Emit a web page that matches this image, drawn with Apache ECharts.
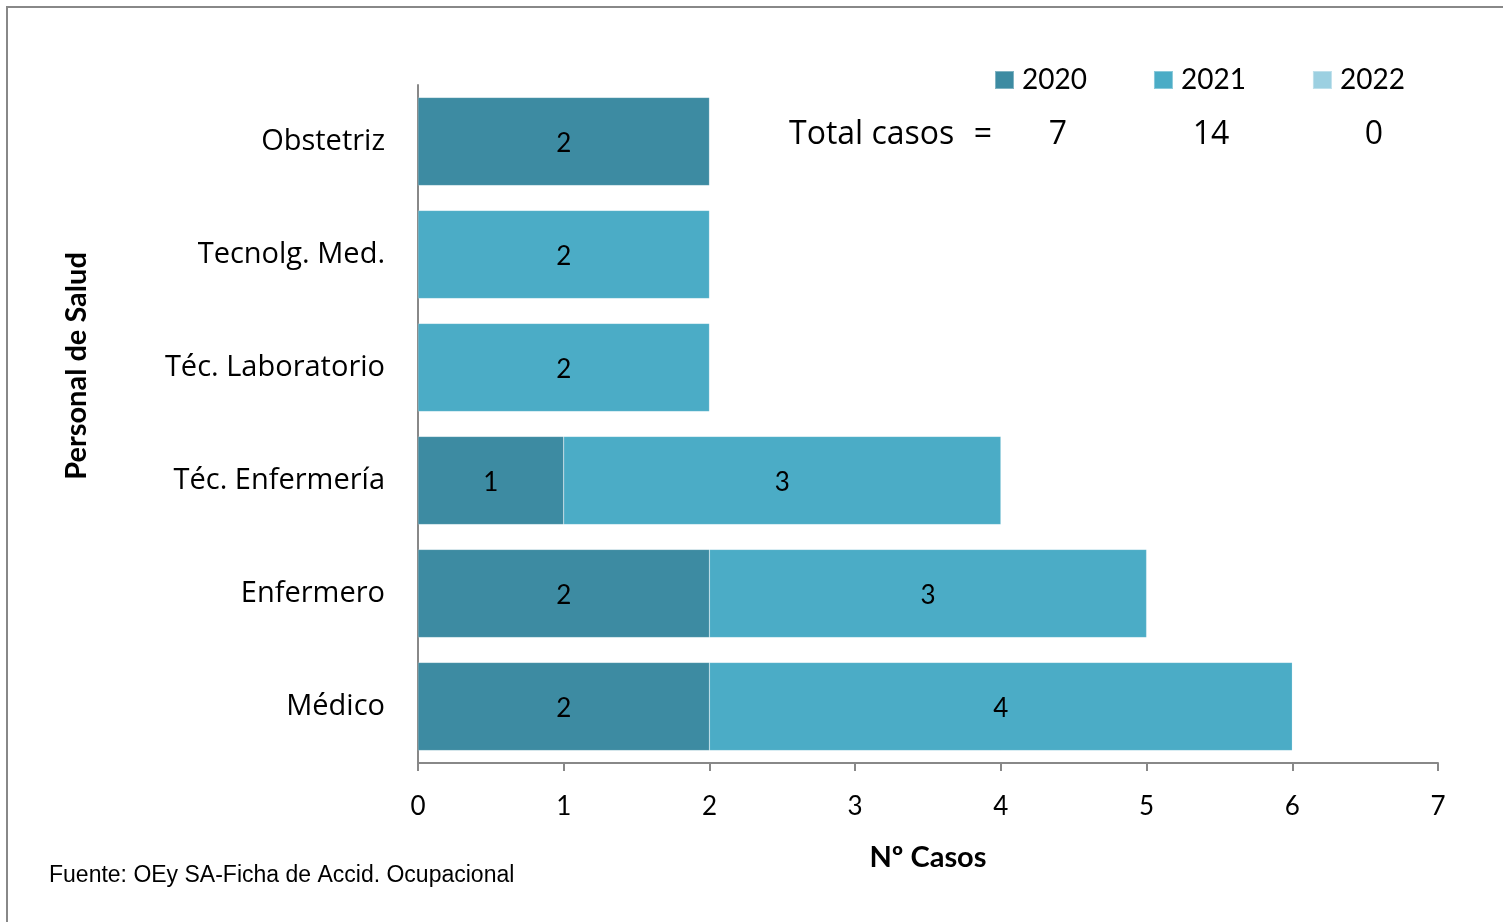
<!DOCTYPE html>
<html><head><meta charset="utf-8">
<script src="https://cdn.jsdelivr.net/npm/echarts@6/dist/echarts.min.js"></script>
<style>html,body{margin:0;padding:0;background:#fff}#c{width:1503px;height:922px}</style>
</head><body><div id="c"></div>
<script>
const categories = ['Médico','Enfermero','Téc. Enfermería','Téc. Laboratorio','Tecnolg. Med.','Obstetriz'];
const years = ['2020','2021','2022'];
const v2020 = [2, 2, 1, 0, 0, 2];
const v2021 = [4, 3, 3, 2, 2, 0];
const v2022 = [0, 0, 0, 0, 0, 0];
const colors = ['#3D8BA2','#4BACC6','#9CD0E1'];
const xTicks = [0,1,2,3,4,5,6,7];

const seriesVals = [v2020, v2021, v2022];
const totals = seriesVals.map(a => a.reduce((s, x) => s + x, 0));
const FONT = 'Lato, "Open Sans", sans-serif';
const WFONT = '"Open Sans", Lato, sans-serif';

const chart = echarts.init(document.getElementById('c'));
const series = years.map((y, i) => ({
  name: y, type: 'bar', stack: 'total', barCategoryGap: '22%',
  data: seriesVals[i].map(v => v === 0 ? null : v),
  itemStyle: { color: colors[i], borderColor: 'rgba(255,255,255,0.35)', borderWidth: 0.5 },
  label: { show: true, position: 'inside', color: '#000', fontSize: 26, fontFamily: FONT,
           offset: [0, 2], formatter: p => p.value ? p.value : '' },
  emphasis: { disabled: true }
}));

const totalTexts = [];
const totX = [1058, 1211, 1374];
totals.forEach((t, i) => totalTexts.push({
  type: 'text', x: totX[i], y: 135,
  style: { text: String(t), font: '32px ' + WFONT, fill: '#000', textAlign: 'center', textVerticalAlign: 'middle' }
}));

chart.setOption({
  animation: false,
  backgroundColor: '#fff',
  grid: { left: 418, right: 65, top: 85, bottom: 159, containLabel: false },
  legend: {
    data: years, left: 994, top: 66, padding: 0, itemWidth: 19, itemHeight: 18, itemGap: 66,
    icon: 'rect',
    textStyle: { fontSize: 28, fontFamily: FONT, color: '#000', padding: [0, 0, 0, 3] },
    selectedMode: false
  },
  xAxis: {
    type: 'value', min: 0, max: 7, interval: 1,
    name: 'Nº Casos', nameLocation: 'middle', nameGap: 80,
    nameTextStyle: { fontSize: 29, fontWeight: 'bold', fontFamily: FONT, color: '#000' },
    axisLine: { show: true, lineStyle: { color: '#888', width: 2 } },
    axisTick: { show: true, length: 8, lineStyle: { color: '#888', width: 2 } },
    axisLabel: { fontSize: 26, fontFamily: FONT, color: '#000', margin: 31,
                 formatter: v => String(xTicks[v]) },
    splitLine: { show: false }
  },
  yAxis: {
    type: 'category', data: categories,
    axisLine: { show: true, lineStyle: { color: '#888', width: 2 } },
    axisTick: { show: false },
    axisLabel: { fontSize: 29, fontFamily: WFONT, color: '#000', margin: 33, lineHeight: 34, padding: [6, 0, 0, 0] }
  },
  series: series,
  graphic: [
    { type: 'rect', shape: { x: 7, y: 7, width: 1600, height: 1000 },
      style: { fill: 'none', stroke: '#888', lineWidth: 2 }, silent: true },
    { type: 'text', x: 789, y: 135,
      style: { text: 'Total casos', font: '32px ' + WFONT, fill: '#000', textVerticalAlign: 'middle' } },
    { type: 'text', x: 983, y: 135,
      style: { text: '=', font: '32px ' + WFONT, fill: '#000', textAlign: 'center', textVerticalAlign: 'middle' } },
    ...totalTexts,
    { type: 'text', x: 77, y: 366, rotation: Math.PI / 2,
      style: { text: 'Personal de Salud', font: 'bold 29px ' + FONT, fill: '#000',
               textAlign: 'center', textVerticalAlign: 'middle' } },
    { type: 'text', x: 49, y: 876,
      style: { text: 'Fuente: OEy SA-Ficha de Accid. Ocupacional', font: '23px "Liberation Sans", Arial, sans-serif', fill: '#000', textVerticalAlign: 'middle' } }
  ]
});
</script></body></html>
